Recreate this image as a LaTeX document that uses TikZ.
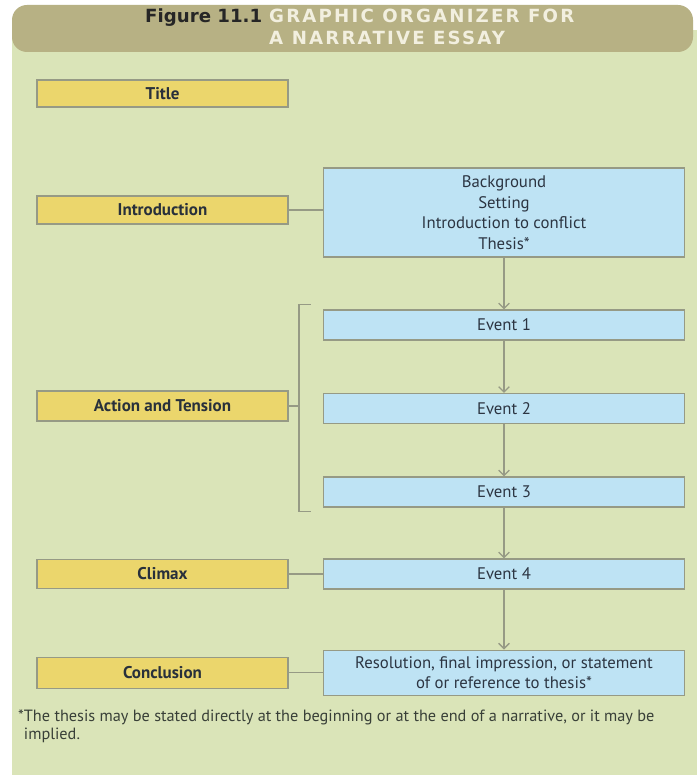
\documentclass[tikz,border=0pt]{standalone}
\usepackage{fontspec}
\setmainfont{PT Sans}
\newfontfamily\headfont{DejaVu Sans}
\newfontfamily\headwide[LetterSpace=12]{DejaVu Sans}
\usetikzlibrary{arrows.meta,calc}
\definecolor{panel}{HTML}{DAE4B8}
\definecolor{band}{HTML}{B7B184}
\definecolor{cream}{HTML}{F2EFDF}
\definecolor{gold}{HTML}{EBD66C}
\definecolor{sky}{HTML}{BEE3F4}
\definecolor{rule}{HTML}{969A85}
\definecolor{ink}{HTML}{2C3542}

\begin{document}
\begin{tikzpicture}[
  partbox/.style={
    draw=rule,
    fill=gold,
    line width=1.1pt,
    minimum width=7.53cm,
    inner sep=0pt,
    text=ink!90!black,
    font=\bfseries\fontsize{14.5}{17}\selectfont
  },
  eventbox/.style={
    draw=rule,
    fill=sky,
    line width=1.1pt,
    minimum width=10.83cm,
    minimum height=.9cm,
    inner sep=0pt,
    align=center,
    text=ink,
    font=\fontsize{14.3}{17.5}\selectfont
  },
  link/.style={
    rule,
    line width=1.3pt
  },
  flow/.style={
    rule,
    line width=1.1pt,
    -{Straight Barb[length=1.6mm,width=3.2mm,line width=1.1pt]}
  }
]

% page, panel and header band
\useasboundingbox (0,0) rectangle (20.91,23.25);
\fill[white] (0,0) rectangle (20.91,23.25);
\fill[panel] (.36,0) rectangle (20.91,22.35);
\fill[band,rounded corners=4.5mm] (.36,21.69) rectangle (20.79,23.10);

\node[inner sep=0pt,anchor=west] (heading) at (4.35,22.37) {%
  \headfont\bfseries\fontsize{15.5}{18}\selectfont
  \begin{tabular}{@{}r@{\hspace{6pt}}l@{}}
    {\color{black!85}Figure 11.1} &
      {\headwide\bfseries\color{cream}GRAPHIC ORGANIZER FOR}\\
    & {\headwide\bfseries\color{cream}A NARRATIVE ESSAY}
  \end{tabular}};

% left column
\node[partbox,minimum height=.81cm] (title)   at (4.875,20.445) {Title};
\node[partbox,minimum height=.84cm] (intro)   at (4.875,16.95)  {Introduction};
\node[partbox,minimum height=.90cm] (action)  at (4.875,11.07)  {Action and Tension};
\node[partbox,minimum height=.87cm] (climax)  at (4.875,6.03)   {Climax};
\node[partbox,minimum height=.93cm] (concl)   at (4.875,3.07)   {Conclusion};

% right column
\node[eventbox,minimum height=2.67cm] (opening) at (15.12,16.875)
  {Background\\Setting\\Introduction to conflict\\Thesis*};
\node[eventbox] (ev1) at (15.12,13.50) {Event 1};
\node[eventbox] (ev2) at (15.12,10.995) {Event 2};
\node[eventbox] (ev3) at (15.12,8.49) {Event 3};
\node[eventbox] (ev4) at (15.12,6.03) {Event 4};
\node[eventbox,minimum height=1.35cm] (ending) at (15.12,3.07)
  {Resolution, final impression, or statement\\of or reference to thesis*};

\draw[flow] (opening.south) -- (ev1.north);
\draw[flow] (ev1.south) -- (ev2.north);
\draw[flow] (ev2.south) -- (ev3.north);
\draw[flow] (ev3.south) -- (ev4.north);
\draw[flow] (ev4.south) -- (ending.north);

\draw[link] (intro.east) -- (intro.east -| opening.west);
\draw[link] (climax.east) -- (ev4.west);
\draw[link] (concl.east) -- (ending.west);

\coordinate (brtop) at ($(ev1.north west)+(-.72,.15)$);
\coordinate (brbot) at ($(ev3.south west)+(-.72,-.12)$);
\draw[link] ($(brtop)+(.36,0)$) -- (brtop) -- (brbot) -- ++(.36,0);
\draw[link] (action.east) -- (action.east -| brtop);

\node[anchor=north west,align=left,inner sep=0pt,text=ink!85!olive,
      font=\fontsize{13.9}{15.4}\selectfont] (note) at (.54,1.96)
  {*The thesis may be stated directly at the beginning or at the end of a narrative, or it may be\\
   \phantom{*}implied.};

\end{tikzpicture}
\end{document}
